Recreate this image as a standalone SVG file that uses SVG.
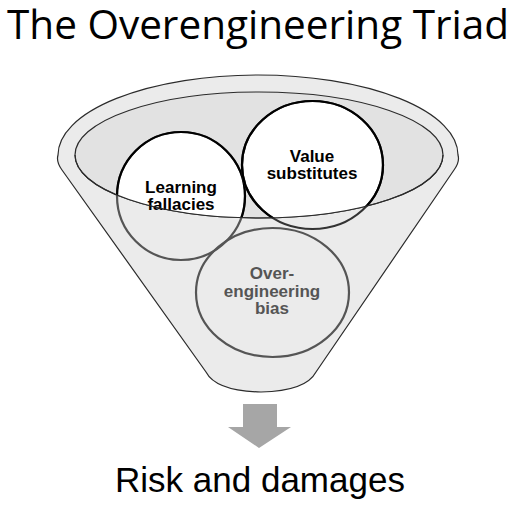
<svg xmlns="http://www.w3.org/2000/svg" width="518" height="507" viewBox="0 0 518 507">
<style>
.title{font-family:"Open Sans","Liberation Sans",sans-serif;font-size:40px;fill:#000}
.out{font-family:"Liberation Sans",Arial,sans-serif;font-size:35px;fill:#000}
.lbl{font-family:"Liberation Sans",Arial,sans-serif;font-size:17px;font-weight:bold;text-anchor:middle}
.dark{fill:#000}
.grey{fill:#555}
.funnel{fill:#ebebeb;stroke:#2b2b2b;stroke-width:1.2}
.inner{fill:#e2e2e2;stroke:#2b2b2b;stroke-width:1.2}
.ring{fill:none;stroke-width:2.2}
</style>
<defs>
<clipPath id="innerClip"><ellipse cx="259" cy="155" rx="184" ry="63"/></clipPath>
</defs>
<rect width="518" height="507" fill="#fff"/>
<text class="title" x="7" y="39" textLength="502" lengthAdjust="spacingAndGlyphs">The Overengineering Triad</text>

<g id="funnel">
<path class="funnel" d="M 58,155 A 200,80 0 0 1 458,155 Q 460,162 454,170 L 316,372 Q 306,391 261,392 Q 216,391 206,372 L 62,170 Q 56,162 58,155 Z"/>
<ellipse class="inner" cx="259" cy="155" rx="184" ry="63"/>
</g>

<g id="node-bias">
<ellipse class="ring" cx="272.5" cy="292.5" rx="76.5" ry="64.5" stroke="#555"/>
<text class="lbl grey" x="272" y="279">Over-</text>
<text class="lbl grey" x="272" y="296.5">engineering</text>
<text class="lbl grey" x="272" y="314">bias</text>
</g>

<g id="node-learning">
<circle cx="181" cy="196" r="64" fill="#fff" clip-path="url(#innerClip)"/>
<circle class="ring" cx="181" cy="196" r="64" stroke="#555"/>
<circle class="ring" cx="181" cy="196" r="64" stroke="#000" clip-path="url(#innerClip)"/>
<text class="lbl dark" x="181" y="193">Learning</text>
<text class="lbl dark" x="181" y="209.5">fallacies</text>
</g>

<g id="node-value">
<ellipse cx="312.5" cy="165" rx="70.5" ry="64" fill="#fff" clip-path="url(#innerClip)"/>
<ellipse class="ring" cx="312.5" cy="165" rx="70.5" ry="64" stroke="#333"/>
<ellipse class="ring" cx="312.5" cy="165" rx="70.5" ry="64" stroke="#000" clip-path="url(#innerClip)"/>
<text class="lbl dark" x="312" y="162">Value</text>
<text class="lbl dark" x="312" y="179">substitutes</text>
</g>

<path d="M 75,155 A 184,63 0 0 0 443,155" fill="none" stroke="#2b2b2b" stroke-width="1.2"/>

<g id="connectors">
<path d="M 243,404 L 277,404 L 277,427 L 291,427 L 259,448 L 228,427 L 243,427 Z" fill="#a6a6a6"/>
</g>

<text class="out" x="260" y="492" text-anchor="middle">Risk and damages</text>
</svg>
